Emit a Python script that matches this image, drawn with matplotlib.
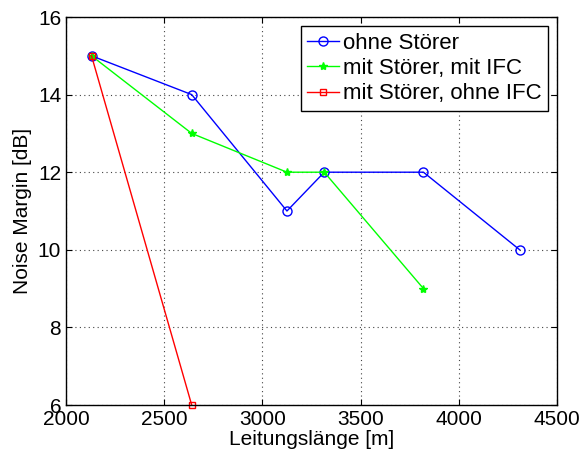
import matplotlib.pyplot as plt

# Data
laenge_ohne = [2130, 2640, 3125, 3315, 3820, 4310]
nm_ohne = [15, 14, 11, 12, 12, 10]

laenge_ifc = [2130, 2640, 3125, 3315, 3820]
nm_ifc = [15, 13, 12, 12, 9]

laenge_noifc = [2130, 2640]
nm_noifc = [15, 6]

plt.rcParams['font.family'] = ['Liberation Sans', 'DejaVu Sans']

fig = plt.figure(figsize=(5.84, 4.57), dpi=100)
ax = fig.add_axes([66 / 584, 1 - 405 / 457, (557 - 66) / 584, (405 - 17) / 457])

ax.plot(laenge_ohne, nm_ohne, '-o', color='#0000ff', lw=1, ms=6.5,
        mfc='none', mew=1, label='ohne Störer', clip_on=False)
ax.plot(laenge_ifc, nm_ifc, '-*', color='#00ff00', lw=1, ms=6,
        mew=1, label='mit Störer, mit IFC', clip_on=False)
ax.plot(laenge_noifc, nm_noifc, '-s', color='#ff0000', lw=1, ms=5,
        mfc='none', mew=1, label='mit Störer, ohne IFC', clip_on=False)

ax.set_xlim(2000, 4500)
ax.set_ylim(6, 16)
ax.set_xticks([2000, 2500, 3000, 3500, 4000, 4500])
ax.set_yticks([6, 8, 10, 12, 14, 16])

ax.grid(True, linestyle=(0, (1, 3)), color='#444444', lw=0.8)
ax.tick_params(direction='in', top=True, right=True, labelsize=15, length=4)
for s in ax.spines.values():
    s.set_linewidth(1)

ax.set_xlabel('Leitungslänge [m]', fontsize=15, labelpad=1)
ax.set_ylabel('Noise Margin [dB]', fontsize=15, labelpad=4)

leg = ax.legend(loc='upper right', fontsize=16, fancybox=False,
                edgecolor='black', framealpha=1, handlelength=1.45,
                handletextpad=0.15, borderpad=0.3, labelspacing=0.2,
                borderaxespad=0.4)
leg.get_frame().set_linewidth(1)

fig.savefig('out.png', dpi=100)
